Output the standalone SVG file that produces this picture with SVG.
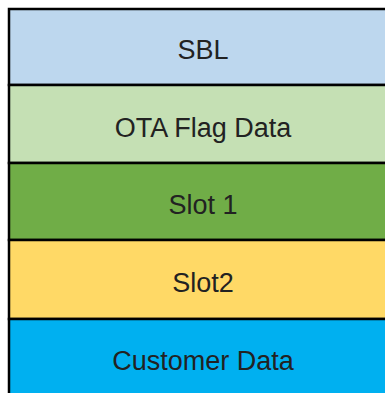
<svg xmlns="http://www.w3.org/2000/svg" width="385" height="393" viewBox="0 0 385 393">
<style>
.band{stroke:#000;stroke-width:2.5}
.lbl{font-family:"Liberation Sans",Arial,sans-serif;font-size:27px;fill:#222;text-anchor:middle;dominant-baseline:central}
</style>
<rect width="385" height="393" fill="#fff"/>
<g id="sbl"><rect class="band" x="9" y="9" width="390" height="76" fill="#BDD7EE"/><text class="lbl" x="203" y="50">SBL</text></g>
<g id="ota"><rect class="band" x="9" y="85" width="390" height="78" fill="#C5E0B4"/><text class="lbl" x="203" y="128">OTA Flag Data</text></g>
<g id="slot1"><rect class="band" x="9" y="163" width="390" height="77" fill="#70AD47"/><text class="lbl" x="203" y="205">Slot 1</text></g>
<g id="slot2"><rect class="band" x="9" y="240" width="390" height="79" fill="#FFD966"/><text class="lbl" x="203" y="283">Slot2</text></g>
<g id="customer"><rect class="band" x="9" y="319" width="390" height="80" fill="#00B0F0"/><text class="lbl" x="203" y="361">Customer Data</text></g>
<g id="connectors"/>
</svg>
